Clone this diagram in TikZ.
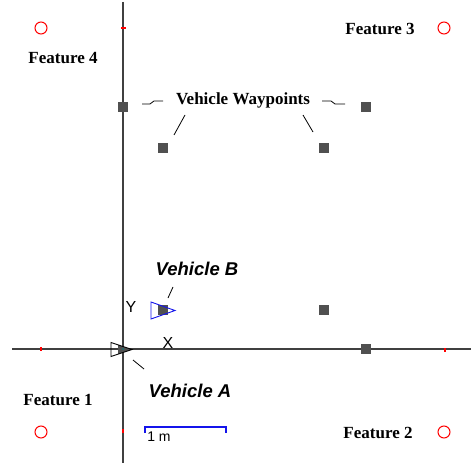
\documentclass[tikz,border=0pt]{standalone}
\usepackage{fontspec}
\setmainfont{Liberation Serif}
\setsansfont{Liberation Sans}
\usetikzlibrary{positioning}
\definecolor{wpgray}{RGB}{80,80,80}
\definecolor{vblue}{RGB}{20,20,235}
\tikzset{
  axis/.style={draw=black!75, line width=1.3pt},
  redtick/.style={fill=red, draw=none},
  feat/.style={circle, draw=red, line width=1pt, minimum size=12pt, inner sep=0pt},
  featlbl/.style={font=\bfseries\fontsize{17}{20}\selectfont, inner sep=0pt, anchor=base},
  wpt/.style={rectangle, fill=wpgray, minimum size=10pt, inner sep=0pt},
  vlbl/.style={font=\sffamily\bfseries\itshape\fontsize{18.5}{22}\selectfont, inner sep=0pt, anchor=base},
  axlbl/.style={font=\sffamily\fontsize{16}{19}\selectfont, inner sep=0pt, anchor=base},
  lead/.style={draw=black, line width=0.8pt},
}

\begin{document}
\begin{tikzpicture}[x=1pt,y=-1pt]
\useasboundingbox (0,0) rectangle (471,465);
% axes
\draw[axis] (12,349) -- (471,349);
\draw[axis] (123,2) -- (123,463);
\fill[redtick] (121,27) rectangle (125.5,29);
\fill[redtick] (122,429) rectangle (124,433);
\fill[redtick] (40,347) rectangle (42,351);
\fill[redtick] (444,347.5) rectangle (446,351.5);
\node[axlbl] (ylbl) at (131,312) {Y};
\node[axlbl] (xlbl) at (168,348) {X};

% features
\node[feat] (f1) at (41,432) {};
\node[feat] (f2) at (444,432) {};
\node[feat] (f3) at (444,28) {};
\node[feat] (f4) at (41,28) {};
\node[featlbl] (f1lbl) at (58,405) {Feature 1};
\node[featlbl] (f2lbl) at (378,438) {Feature 2};
\node[featlbl] (f3lbl) at (380,35) {Feature 3};
\node[featlbl] (f4lbl) at (63,64) {Feature 4};

% waypoints
\node[wpt] (w1) at (123,107) {};
\node[wpt] (w2) at (163,148) {};
\node[wpt] (w3) at (324,148) {};
\node[wpt] (w4) at (366,107) {};
\node[wpt] (w5) at (163,310) {};
\node[wpt] (w6) at (324,310) {};
\node[wpt] (w7) at (366,349) {};
\node[featlbl] (wplbl) at (243,105) {Vehicle Waypoints};
\draw[lead] (142,104) -- (150,104) -- (154,101) -- (163,101);
\draw[lead] (322,101) -- (331,101) -- (335,104) -- (345,104);
\draw[lead] (185,115) -- (174,135);
\draw[lead] (303,115) -- (313,132);

% vehicle A
\begin{scope}
  \clip (111,342.5) -- (132,349.5) -- (111,356.5) -- cycle;
  \fill[wpgray] (118,340) rectangle (133,360);
\end{scope}
\draw[black, line width=0.8pt] (111,342.5) -- (132,349.5) -- (111,356.5) -- cycle;
\fill[teal] (123,349) circle (0.9pt);
\node[vlbl] (valbl) at (190,397) {Vehicle A};
\draw[lead] (133,360) -- (144,369);

% vehicle B
\draw[vblue, line width=0.9pt] (151,302) -- (175,310.5) -- (151,319) -- cycle;
\node[vlbl] (vblbl) at (197,275) {Vehicle B};
\draw[lead] (173,287) -- (168,298);

% scale bar
\draw[vblue, line width=1.1pt] (145,433) -- (145,427) -- (226,427) -- (226,433);
\node[axlbl, font=\sffamily\fontsize{14}{17}\selectfont] (scl) at (159,441) {1 m};
\end{tikzpicture}
\end{document}
